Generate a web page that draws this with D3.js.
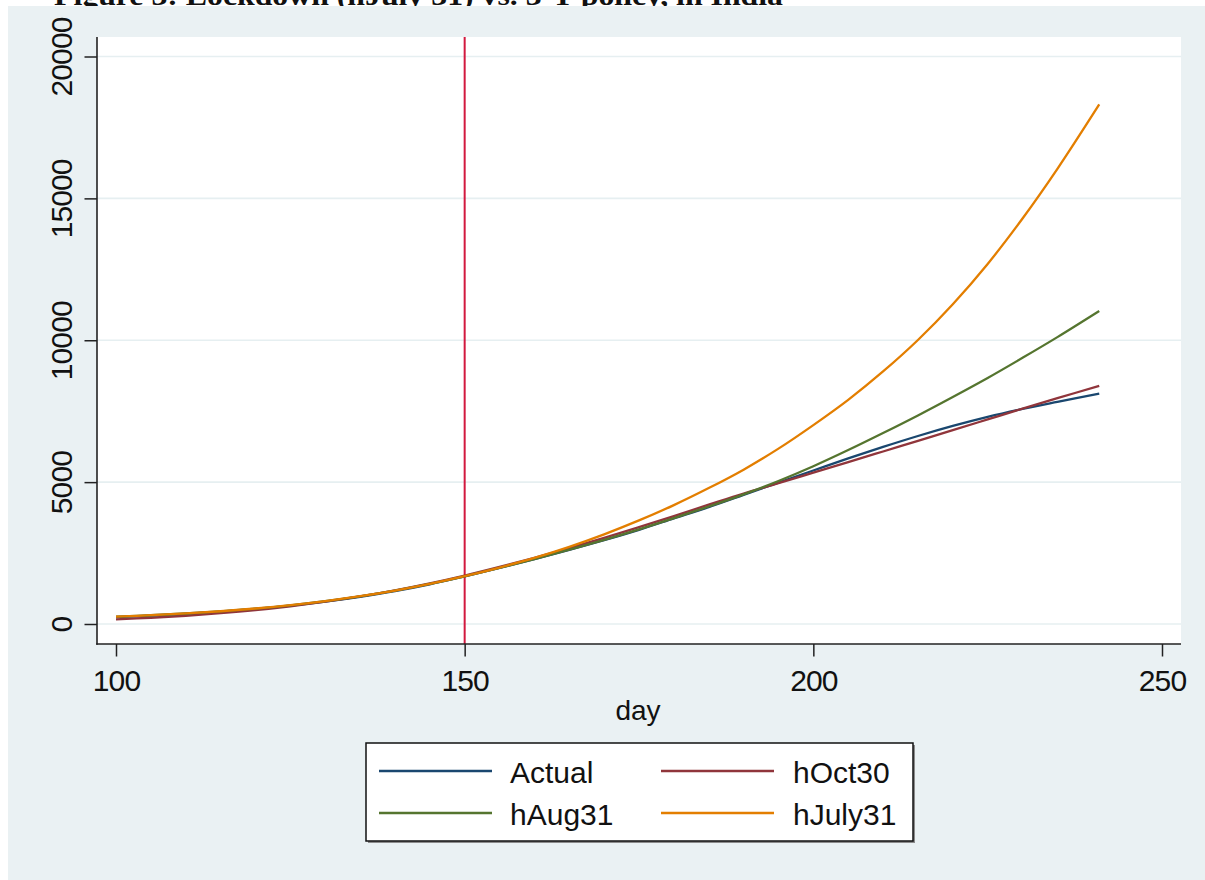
<!DOCTYPE html>
<html>
<head>
<meta charset="utf-8">
<script src="https://cdn.jsdelivr.net/npm/d3@7"></script>
<style>
  html, body { margin: 0; padding: 0; background: #ffffff; }
  svg { display: block; }
  text { font-family: "Liberation Sans", Arial, Helvetica, sans-serif; fill: #111; }
</style>
</head>
<body>
<svg id="chart" width="1205" height="880"></svg>
<script>
// Day of the year at which each curve is sampled
const days = [100,105,110,115,120,125,130,135,140,145,150,155,160,165,170,175,180,185,190,195,200,205,210,215,220,225,230,235,241];

// Cumulative cases: actual series and the three lockdown-horizon projections
const actual  = [240,292,355,433,530,648,790,960,1160,1400,1680,1975,2285,2610,2955,3320,3720,4120,4550,4985,5410,5835,6240,6625,6980,7300,7580,7830,8120];
const hOct30  = [165,220,290,380,490,625,785,970,1185,1430,1705,2010,2335,2675,3035,3415,3805,4205,4600,4965,5335,5705,6080,6455,6830,7210,7590,7960,8390];
const hAug31  = [257,308,370,447,542,660,805,975,1175,1410,1680,1975,2290,2620,2965,3335,3730,4140,4570,5040,5560,6130,6730,7350,8000,8670,9380,10110,11030];
const hJuly31 = [260,311,373,450,546,664,809,980,1180,1415,1685,1990,2330,2720,3160,3650,4190,4790,5440,6180,7010,7900,8900,10010,11270,12690,14290,16040,18310];

const xTicks = [100, 150, 200, 250];
const yTicks = [0, 5000, 10000, 15000, 20000];
const lockdownDay = 150;

const seriesNames  = ["Actual", "hOct30", "hAug31", "hJuly31"];
const seriesValues = [actual, hOct30, hAug31, hJuly31];
const seriesColors = ["#1a476f", "#90353b", "#55752f", "#e37e00"];

const titleText = "Figure 3: Lockdown (hJuly 31) vs. 3-T policy, in India";
const xTitle = "day";

const svg = d3.select("#chart");

// Figure title (sits above the graph panel)
svg.append("text")
  .attr("x", 54).attr("y", 5)
  .attr("textLength", 729).attr("lengthAdjust", "spacingAndGlyphs")
  .style("font-family", '"Liberation Serif", "Times New Roman", serif')
  .style("font-weight", "bold").style("font-size", "28px")
  .text(titleText);

// Graph panel background
svg.append("rect")
  .attr("x", 8).attr("y", 6).attr("width", 1197).attr("height", 874)
  .attr("fill", "#eaf1f3");

// Plot region
const plot = { left: 97, right: 1181, top: 37, bottom: 644 };
svg.append("rect")
  .attr("x", plot.left).attr("y", plot.top)
  .attr("width", plot.right - plot.left).attr("height", plot.bottom - plot.top)
  .attr("fill", "#ffffff");

const x = d3.scaleLinear().domain([100, 250]).range([116, 1162]);
const y = d3.scaleLinear().domain([0, 20000]).range([624, 56.5]);

// Horizontal grid lines
svg.append("g").selectAll("line")
  .data(yTicks).join("line")
  .attr("x1", plot.left).attr("x2", plot.right)
  .attr("y1", d => y(d)).attr("y2", d => y(d))
  .attr("stroke", "#e6eff1").attr("stroke-width", 1.6);

// Lockdown reference line
svg.append("line")
  .attr("x1", x(lockdownDay)).attr("x2", x(lockdownDay))
  .attr("y1", plot.top).attr("y2", plot.bottom)
  .attr("stroke", "#d2193f").attr("stroke-width", 2);

// Series lines
const line = d3.line()
  .x((d, i) => x(days[i]))
  .y(d => y(d))
  .curve(d3.curveCatmullRom.alpha(0.5));

svg.append("g").selectAll("path")
  .data(seriesValues).join("path")
  .attr("d", d => line(d))
  .attr("fill", "none")
  .attr("stroke", (d, i) => seriesColors[i])
  .attr("stroke-width", 2.3)
  .attr("stroke-linejoin", "round");

// Axes
const axisColor = "#222";
const yAxis = svg.append("g")
  .attr("transform", `translate(${plot.left},0)`)
  .call(d3.axisLeft(y).tickValues(yTicks).tickSize(12.5).tickSizeOuter(0).tickFormat(d3.format("d")));
yAxis.select(".domain").remove();
yAxis.selectAll(".tick line").attr("stroke", axisColor).attr("stroke-width", 1.5);
yAxis.selectAll(".tick text")
  .attr("transform", "rotate(-90)")
  .attr("x", 0).attr("y", -25).attr("dy", 0)
  .attr("text-anchor", "middle")
  .style("font-size", "30px").style("letter-spacing", "-0.9px")
  .style("font-family", '"Liberation Sans", Arial, sans-serif')
  .attr("fill", "#111");

const xAxis = svg.append("g")
  .attr("transform", `translate(0,${plot.bottom})`)
  .call(d3.axisBottom(x).tickValues(xTicks).tickSize(12.5).tickSizeOuter(0).tickFormat(d3.format("d")));
xAxis.select(".domain").remove();
xAxis.selectAll(".tick line").attr("stroke", axisColor).attr("stroke-width", 1.5);
xAxis.selectAll(".tick text")
  .attr("y", 47).attr("dy", 0)
  .style("font-size", "30px").style("letter-spacing", "-0.9px")
  .style("font-family", '"Liberation Sans", Arial, sans-serif')
  .attr("fill", "#111");

svg.append("line")
  .attr("x1", plot.left).attr("x2", plot.left)
  .attr("y1", plot.top).attr("y2", plot.bottom + 0.8)
  .attr("stroke", axisColor).attr("stroke-width", 1.6);
svg.append("line")
  .attr("x1", plot.left - 0.8).attr("x2", plot.right)
  .attr("y1", plot.bottom).attr("y2", plot.bottom)
  .attr("stroke", axisColor).attr("stroke-width", 1.6);

// Axis title
svg.append("text")
  .attr("x", 638).attr("y", 720)
  .attr("text-anchor", "middle")
  .style("font-size", "28px")
  .text(xTitle);

// Legend
const legend = { x: 366, y: 743, w: 547, h: 98 };
svg.append("rect")
  .attr("x", legend.x + 2).attr("y", legend.y + 2)
  .attr("width", legend.w).attr("height", legend.h)
  .attr("fill", "#8c8c8c");
svg.append("rect")
  .attr("x", legend.x).attr("y", legend.y)
  .attr("width", legend.w).attr("height", legend.h)
  .attr("fill", "#ffffff").attr("stroke", "#111").attr("stroke-width", 1.5);

const colX = [{ l1: 379, l2: 492, t: 510 }, { l1: 661, l2: 774, t: 793 }];
const rowY = [{ l: 771, t: 783 }, { l: 813, t: 825 }];

const entries = svg.append("g").selectAll("g")
  .data(seriesNames).join("g");
entries.append("line")
  .attr("x1", (d, i) => colX[i % 2].l1).attr("x2", (d, i) => colX[i % 2].l2)
  .attr("y1", (d, i) => rowY[Math.floor(i / 2)].l).attr("y2", (d, i) => rowY[Math.floor(i / 2)].l)
  .attr("stroke", (d, i) => seriesColors[i]).attr("stroke-width", 2.3);
entries.append("text")
  .attr("x", (d, i) => colX[i % 2].t)
  .attr("y", (d, i) => rowY[Math.floor(i / 2)].t)
  .style("font-size", "30px")
  .text(d => d);
</script>
</body>
</html>
